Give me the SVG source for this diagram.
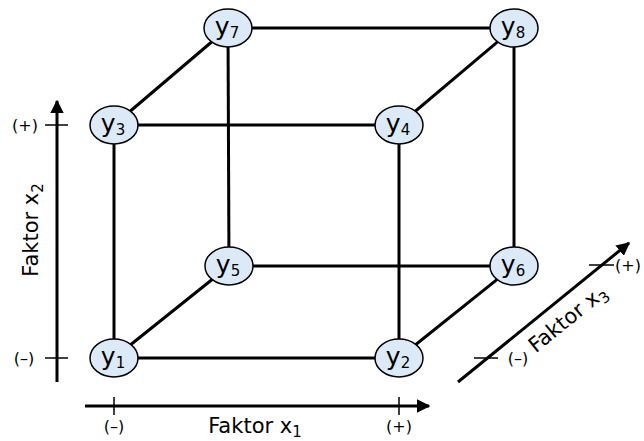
<svg xmlns="http://www.w3.org/2000/svg" width="644" height="441" viewBox="0 0 644 441">
<defs>
<style>
.e{stroke:#000;stroke-width:3;fill:none}
.ax{stroke:#000;stroke-width:3;fill:none}
.tk{stroke:#000;stroke-width:1.5;fill:none}
.n ellipse{fill:#dceaf8;stroke:#000;stroke-width:1.5}
.n text{font-family:"DejaVu Sans",sans-serif;font-size:25px;fill:#000;text-anchor:middle}
.n .sub{font-size:15px}
.sub{font-size:15px}
.lb{font-family:"DejaVu Sans",sans-serif;font-size:21px;fill:#000}
.pm{font-family:"DejaVu Sans",sans-serif;font-size:16px;fill:#000}
</style>
<marker id="ah" viewBox="0 0 10 10" refX="9" refY="5" markerWidth="4.5" markerHeight="4.5" orient="auto" markerUnits="strokeWidth">
<path d="M0,0 L10,5 L0,10 z" fill="#000"/>
</marker>
</defs>
<rect width="644" height="441" fill="#fff"/>
<g id="connectors">
<line class="e" x1="228" y1="28" x2="514" y2="28"/>
<line class="e" x1="114" y1="125" x2="399" y2="125"/>
<line class="e" x1="229" y1="266" x2="514" y2="266"/>
<line class="e" x1="114" y1="358" x2="399" y2="358"/>
<line class="e" x1="114" y1="125" x2="114" y2="358"/>
<line class="e" x1="399" y1="125" x2="399" y2="358"/>
<line class="e" x1="228" y1="28" x2="229" y2="266"/>
<line class="e" x1="514" y1="28" x2="514" y2="266"/>
<line class="e" x1="114" y1="125" x2="228" y2="28"/>
<line class="e" x1="399" y1="125" x2="514" y2="28"/>
<line class="e" x1="114" y1="358" x2="229" y2="266"/>
<line class="e" x1="399" y1="358" x2="514" y2="266"/>
</g>
<g id="axis-x2">
<line class="ax" x1="57" y1="382" x2="57" y2="101" marker-end="url(#ah)"/>
<line class="tk" x1="45" y1="125" x2="68" y2="125"/>
<line class="tk" x1="45" y1="358" x2="68" y2="358"/>
<text class="pm" x="25" y="131" text-anchor="middle">(+)</text>
<text class="pm" x="24" y="364" text-anchor="middle">(–)</text>
<text class="lb" transform="translate(38,230) rotate(-90)" text-anchor="middle">Faktor x<tspan class="sub" dy="5">2</tspan></text>
</g>
<g id="axis-x1">
<line class="ax" x1="85" y1="406" x2="429" y2="406" marker-end="url(#ah)"/>
<line class="tk" x1="114" y1="397" x2="114" y2="415"/>
<line class="tk" x1="399" y1="397" x2="399" y2="415"/>
<text class="pm" x="114" y="432" text-anchor="middle">(–)</text>
<text class="pm" x="399" y="432" text-anchor="middle">(+)</text>
<text class="lb" x="255" y="433" text-anchor="middle">Faktor x<tspan class="sub" dy="4">1</tspan></text>
</g>
<g id="axis-x3">
<line class="ax" x1="458" y1="382" x2="629" y2="243" marker-end="url(#ah)"/>
<line class="tk" x1="474" y1="358" x2="498" y2="358"/>
<line class="tk" x1="589" y1="265" x2="614" y2="265"/>
<text class="pm" x="518" y="364" text-anchor="middle">(–)</text>
<text class="pm" x="615" y="271">(+)</text>
<text class="lb" transform="translate(572,324) rotate(-39)" text-anchor="middle">Faktor x<tspan class="sub" dy="5">3</tspan></text>
</g>
<g id="y7" class="n"><ellipse cx="228" cy="28" rx="24" ry="19"/><text x="227" y="35">y<tspan class="sub" dy="3">7</tspan></text></g>
<g id="y8" class="n"><ellipse cx="514" cy="28" rx="24" ry="19"/><text x="513" y="35">y<tspan class="sub" dy="3">8</tspan></text></g>
<g id="y3" class="n"><ellipse cx="114" cy="125" rx="24" ry="19"/><text x="113" y="132">y<tspan class="sub" dy="3">3</tspan></text></g>
<g id="y4" class="n"><ellipse cx="399" cy="125" rx="24" ry="19"/><text x="398" y="132">y<tspan class="sub" dy="3">4</tspan></text></g>
<g id="y5" class="n"><ellipse cx="229" cy="266" rx="24" ry="19"/><text x="228" y="273">y<tspan class="sub" dy="3">5</tspan></text></g>
<g id="y6" class="n"><ellipse cx="514" cy="266" rx="24" ry="19"/><text x="513" y="273">y<tspan class="sub" dy="3">6</tspan></text></g>
<g id="y1" class="n"><ellipse cx="114" cy="358" rx="24" ry="19"/><text x="113" y="365">y<tspan class="sub" dy="3">1</tspan></text></g>
<g id="y2" class="n"><ellipse cx="399" cy="358" rx="24" ry="19"/><text x="398" y="365">y<tspan class="sub" dy="3">2</tspan></text></g>
</svg>
